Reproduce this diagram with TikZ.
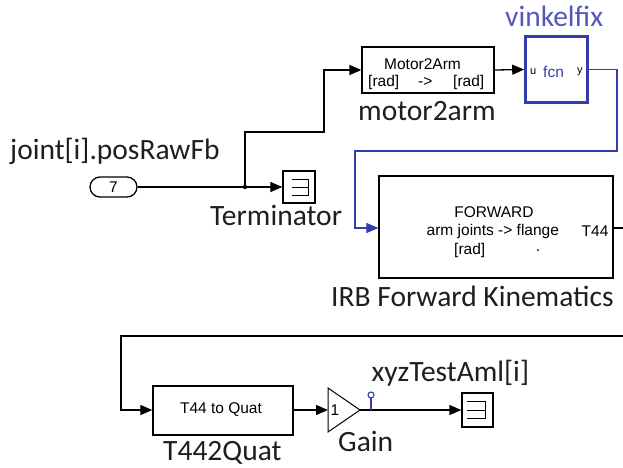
\documentclass[tikz,border=0pt]{standalone}
\usepackage{fontspec}
\setmainfont{Carlito}
\newfontfamily\blkfont{Liberation Sans}
\usetikzlibrary{arrows.meta}
\definecolor{sblue}{RGB}{50,60,170}
\definecolor{lblue}{RGB}{85,85,190}
\definecolor{labc}{RGB}{30,30,30}
\begin{document}
\begin{tikzpicture}[x=1pt,y=-1pt,
 wire/.style={line width=1.3pt, -{Triangle[length=12pt,width=10pt]}},
 plain/.style={line width=1.3pt},
 blockbox/.style={draw, line width=1.3pt, inner sep=0pt},
 lab/.style={font=\fontsize{29.5}{31}\selectfont, text=labc, anchor=base west, inner sep=0pt},
 btext/.style={font=\blkfont\fontsize{15.5}{17}\selectfont, inner sep=0pt},
 stext/.style={font=\blkfont\fontsize{11}{12}\selectfont, inner sep=0pt},
]
\useasboundingbox (0,0) rectangle (623,467);
% blocks
\node[blockbox, minimum width=132pt, minimum height=46pt] (m2a) at (428,70) {};
\node[blockbox, draw=sblue, line width=2.6pt, minimum width=62pt, minimum height=66pt] (fcn) at (556.5,69.5) {};
\node[blockbox, minimum width=234pt, minimum height=102pt] (fwd) at (496,227) {};
\node[blockbox, minimum width=140pt, minimum height=49pt] (t2q) at (223,410.5) {};
\node[blockbox, minimum width=32pt, minimum height=32pt] (term1) at (299,187) {};
\node[blockbox, minimum width=31pt, minimum height=34pt] (term2) at (477.5,410) {};
\node[blockbox, rounded corners=10pt, minimum width=47pt, minimum height=20pt] (inp) at (113.5,187) {};
\node[btext] (inptext) at (113.5,187) {7};
% gain triangle
\coordinate (gtop) at (328,388);
\coordinate (gbot) at (328,432);
\coordinate (gapex) at (360,410);
\coordinate (gin) at (328,410);
\draw[plain, line width=1pt] (gtop) -- (gapex) -- (gbot) -- cycle;
\node[btext] (gone) at (335,410) {1};
% terminator symbols
\draw[plain, line width=1pt] (291.5,179) -- (308,179) -- (308,195) -- (291.5,195) (291.5,187) -- (308,187);
\draw[plain, line width=1pt] (466.5,401.7) -- (485,401.7) -- (485,418.3) -- (466.5,418.3) (466.5,410) -- (485,410);
% block texts
\node[btext] (m2aA) at (422.5,64) {Motor2Arm};
\node[btext, anchor=west] (m2aB) at (368,82) {[rad]};
\node[btext, anchor=west] (m2aC) at (418,82) {->};
\node[btext, anchor=west] (m2aD) at (453,82) {[rad]};
\node[stext, anchor=west] (fu) at (530,72) {u};
\node[btext, text=sblue, anchor=west] (ff) at (543,72) {fcn};
\node[stext, anchor=west] (fy) at (577,72) {y};
\node[btext] (fwA) at (494,212) {FORWARD};
\node[btext, anchor=west] (fwB) at (426.5,231) {arm joints -> flange};
\node[btext, anchor=west] (fwC) at (581.5,231) {T44};
\node[btext, anchor=west] (fwD) at (454,250) {[rad]};
\node[btext] (fwE) at (538,251) {.};
\node[btext] (t2qt) at (221,410) {T44 to Quat};
% labels
\node[lab] (l1) at (10,159) {joint[i].posRawFb};
\node[lab] (l2) at (210,225) {Terminator};
\node[lab] (l3) at (358,120) {motor2arm};
\node[lab, text=lblue] (l4) at (505,26) {vinkelfix};
\node[lab] (l5) at (331,306.5) {IRB Forward Kinematics};
\node[lab] (l6) at (163,460) {T442Quat};
\node[lab] (l7) at (338,451.5) {Gain};
\node[lab] (l8) at (371.5,381.5) {xyzTestAml[i]};
% connectors
\coordinate (jn) at (245,187);
\draw[wire] (inp.east) -- (term1.west);
\fill (jn) circle (2.2pt);
\draw[wire] (jn) -- (245,132) -- (324,132) -- (324,70) -- (m2a.west);
\draw[wire] (m2a.east) -- (fcn.west);
\draw[wire, color=sblue, line width=1.1pt] (fcn.east) -- (617,69.5) -- (617,151) -- (355,151) -- (355,228) -- (fwd.west |- 0,228);
\coordinate (fwout) at (623,228);
\draw[plain] (fwd.east |- fwout) -- (fwout);
\coordinate (rtop) at (623,336);
\draw[wire] (rtop) -- (121,336) -- (121,410) -- (t2q.west |- 0,410);
\draw[wire] (t2q.east |- gin) -- (gin);
\draw[wire] (gapex) -- (term2.west);
\coordinate (tp) at (371,410);
\draw[draw=sblue, line width=1.1pt] (tp) -- (371,398);
\draw[draw=sblue, line width=1.1pt, fill=white] (371,395) circle (3pt);
\end{tikzpicture}
\end{document}
